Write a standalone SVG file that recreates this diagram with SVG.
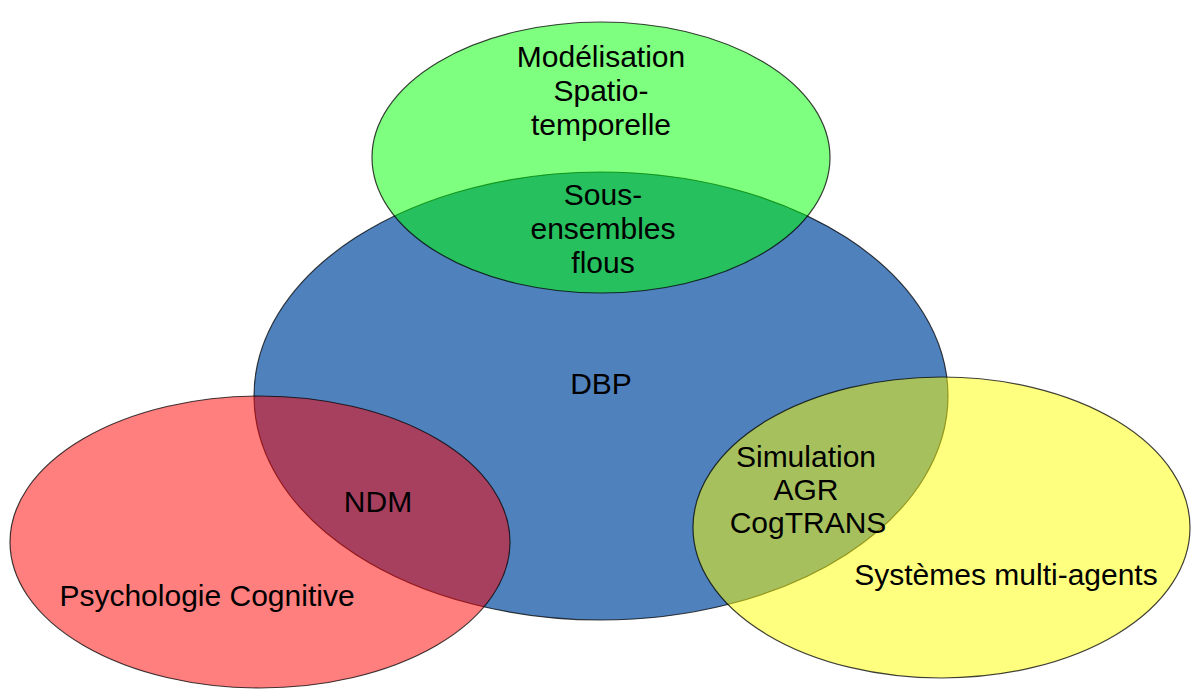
<svg xmlns="http://www.w3.org/2000/svg" width="1195" height="689" viewBox="0 0 1195 689">
  <style>
    .e { stroke: #000; stroke-opacity: 0.75; stroke-width: 1.2; }
    .t { font-family: "Liberation Sans", Arial, sans-serif; font-size: 30px; fill: #000; text-anchor: middle; }
  </style>
  <rect width="1195" height="689" fill="#fff"/>
  <g id="connectors"></g>
  <g id="dbp">
    <ellipse class="e" cx="601" cy="396" rx="347" ry="224" fill="#4F81BD"/>
    <text class="t" x="601" y="394">DBP</text>
  </g>
  <g id="modelisation">
    <ellipse class="e" cx="601" cy="157.5" rx="229" ry="135.5" fill="#00FF00" fill-opacity="0.5"/>
    <text class="t" x="601" y="67">Modélisation</text>
    <text class="t" x="601" y="101">Spatio-</text>
    <text class="t" x="601" y="135">temporelle</text>
  </g>
  <g id="psychologie">
    <ellipse class="e" cx="260" cy="542" rx="250" ry="146" fill="#FF0000" fill-opacity="0.5"/>
    <text class="t" x="207" y="606">Psychologie Cognitive</text>
  </g>
  <g id="sma">
    <ellipse class="e" cx="941.5" cy="527.5" rx="248.5" ry="150.5" fill="#FFFF00" fill-opacity="0.5"/>
    <text class="t" x="1006" y="585">Systèmes multi-agents</text>
  </g>
  <g id="sous-ensembles">
    <text class="t" x="603" y="205">Sous-</text>
    <text class="t" x="603" y="239">ensembles</text>
    <text class="t" x="603" y="273">flous</text>
  </g>
  <g id="ndm">
    <text class="t" x="378" y="512">NDM</text>
  </g>
  <g id="simulation">
    <text class="t" x="806" y="467">Simulation</text>
    <text class="t" x="806" y="500">AGR</text>
    <text class="t" x="808" y="533">CogTRANS</text>
  </g>
</svg>
